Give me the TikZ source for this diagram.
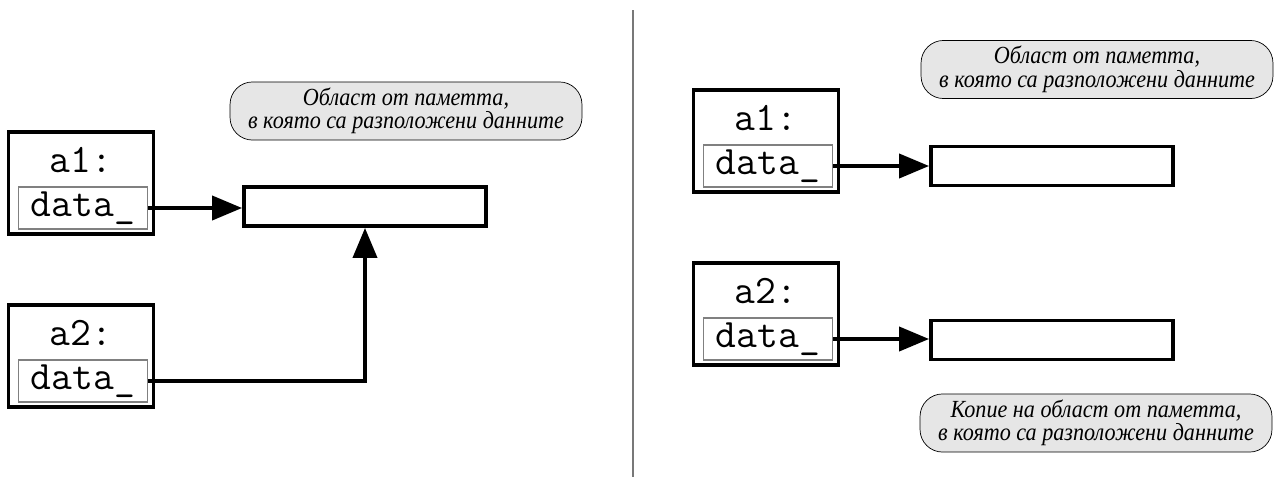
\documentclass[tikz,border=0pt]{standalone}
\usepackage{fontspec}
\setmainfont{Liberation Serif}
\newfontfamily\notefont[FakeStretch=0.9]{Liberation Serif}
\usetikzlibrary{arrows.meta,positioning,calc}
\definecolor{bubblegray}{RGB}{230,230,230}
\definecolor{rulegray}{RGB}{120,120,120}

\begin{document}
\begin{tikzpicture}[x=0.02cm,y=-0.02cm,
    objbox/.style={draw,line width=2.2pt,minimum width=2.9cm,minimum height=2.04cm},
    fieldbox/.style={draw=gray,line width=0.6pt,minimum width=2.58cm,minimum height=0.84cm,inner sep=0pt,font=\ttfamily\fontsize{23}{23}\selectfont},
    membox/.style={draw,line width=2.2pt,minimum width=4.84cm,minimum height=0.78cm},
    note/.style={draw,fill=bubblegray,rounded corners=0.45cm,minimum width=7.04cm,minimum height=1.1cm,align=center,font=\notefont\itshape\fontsize{14}{13.4}\selectfont},
    ptr/.style={line width=2.2pt,-{Triangle[length=0.6cm,width=0.48cm]}}]
  \useasboundingbox (0,0) rectangle (1277,477);
  \draw[rulegray,line width=0.6pt] (633,10) -- (633,477);
  % objects with their data_ field
  \foreach \n/\t/\x/\y in {1/a1/81/183, 2/a2/81/356, 3/a1/766/141, 4/a2/766/314}
  {
    \node[objbox] (a\n) at (\x,\y) {};
    \node[font=\ttfamily\fontsize{23}{23}\selectfont] (t\n) at (\x,\y-23) {\t:};
    \node[fieldbox] (d\n) at (\x+2,\y+25) {data\_};
  }
  % memory blocks
  \node[membox] (m1) at (365,206.5) {};
  \node[membox] (m3) at (1052,166) {};
  \node[membox] (m4) at (1052,340) {};
  \draw[ptr] (d1.east) -- (d1.east -| m1.west);
  \draw[ptr] (d2.east) -| (m1.south);
  \draw[ptr] (d3.east) -- (d3.east -| m3.west);
  \draw[ptr] (d4.east) -- (d4.east -| m4.west);
  % notes
  \node[note] (n1) at (406,111) {Област от паметта,\\в която са разположени данните};
  \node[note] (n2) at (1097,69.5) {Област от паметта,\\в която са разположени данните};
  \node[note] (n3) at (1096,423) {Копие на област от паметта,\\в която са разположени данните};
\end{tikzpicture}
\end{document}
